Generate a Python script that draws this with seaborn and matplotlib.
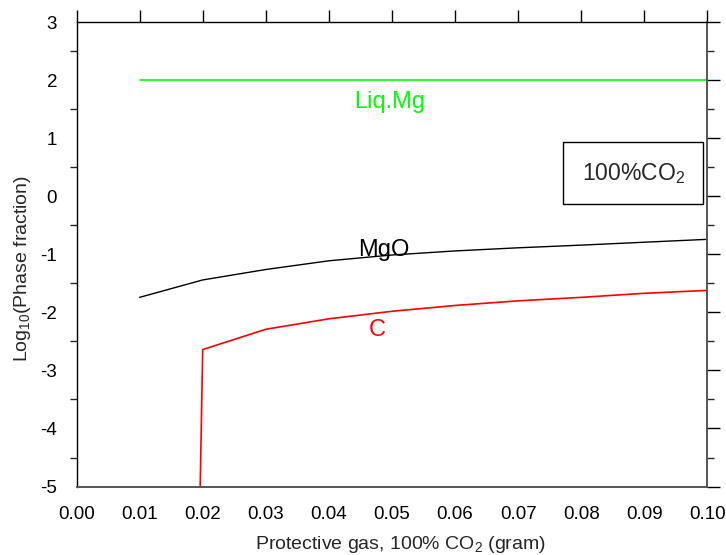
import seaborn as sns
import matplotlib.pyplot as plt
from matplotlib.ticker import MultipleLocator

# phase fractions (log10) vs gas amount
x_liq = [0.01, 0.02, 0.03, 0.04, 0.05, 0.06, 0.07, 0.08, 0.09, 0.10]
y_liq = [2.0, 2.0, 2.0, 2.0, 2.0, 2.0, 2.0, 2.0, 2.0, 2.0]

x_mgo = [0.01, 0.02, 0.03, 0.04, 0.05, 0.06, 0.07, 0.08, 0.09, 0.10]
y_mgo = [-1.74, -1.44, -1.26, -1.11, -1.01, -0.94, -0.886, -0.84, -0.79, -0.74]

x_c = [0.0196, 0.0200, 0.03, 0.04, 0.05, 0.06, 0.07, 0.08, 0.09, 0.10]
y_c = [-5.0, -2.64, -2.29, -2.11, -1.98, -1.88, -1.80, -1.74, -1.67, -1.62]

sns.set_style('white')
plt.rcParams['font.family'] = ['Liberation Sans', 'DejaVu Sans']
plt.rcParams['mathtext.default'] = 'regular'
plt.rcParams['axes.unicode_minus'] = False

fig = plt.figure(figsize=(7.26, 5.55), dpi=100)
ax = fig.add_axes([0.1054, 0.1234, 0.8691, 0.8364])

sns.lineplot(x=x_liq, y=y_liq, color='#00ff00', lw=1.2, sort=False, estimator=None, ax=ax)
sns.lineplot(x=x_mgo, y=y_mgo, color='black', lw=1.0, sort=False, estimator=None, ax=ax)
sns.lineplot(x=x_c, y=y_c, color='#ff0000', lw=1.2, sort=False, estimator=None, ax=ax)

ax.set_xlim(0, 0.10)
ax.set_ylim(-5, 3)
ax.xaxis.set_major_locator(MultipleLocator(0.01))
ax.yaxis.set_major_locator(MultipleLocator(1))
ax.yaxis.set_minor_locator(MultipleLocator(0.5))
ax.xaxis.set_major_formatter(plt.FormatStrFormatter('%.2f'))

ax.tick_params(axis='both', which='major', direction='out', length=9, width=1,
               labelsize=13.5, colors='black', top=True, right=True, pad=5)
ax.tick_params(axis='y', which='minor', direction='out', length=5, width=1,
               left=True, right=True)

for side in ['top', 'left']:
    ax.spines[side].set_color('black')
    ax.spines[side].set_linewidth(1.0)
for side in ['bottom', 'right']:
    ax.spines[side].set_color('#555555')
    ax.spines[side].set_linewidth(1.4)

ax.set_xlabel('Protective gas, 100% CO$_2$ (gram)', fontsize=14, labelpad=8)
ax.set_ylabel('Log$_{10}$(Phase fraction)', fontsize=14, labelpad=5)
ax.xaxis.label.set_x(0.513)
ax.yaxis.label.set_y(0.469)

ax.text(0.0497, 1.62, 'Liq.Mg', color='#00ff00', fontsize=17, ha='center', va='center')
ax.text(0.0487, -0.93, 'MgO', color='black', fontsize=17, ha='center', va='center')
ax.text(0.0476, -2.30, 'C', color='#ff0000', fontsize=17, ha='center', va='center')

ax.text(0.0882, 0.40, '100%CO$_2$', fontsize=16.5, ha='center', va='center',
        bbox=dict(boxstyle='square,pad=0.8', fc='white', ec='black', lw=1.0))

fig.savefig('out.png', dpi=100)
